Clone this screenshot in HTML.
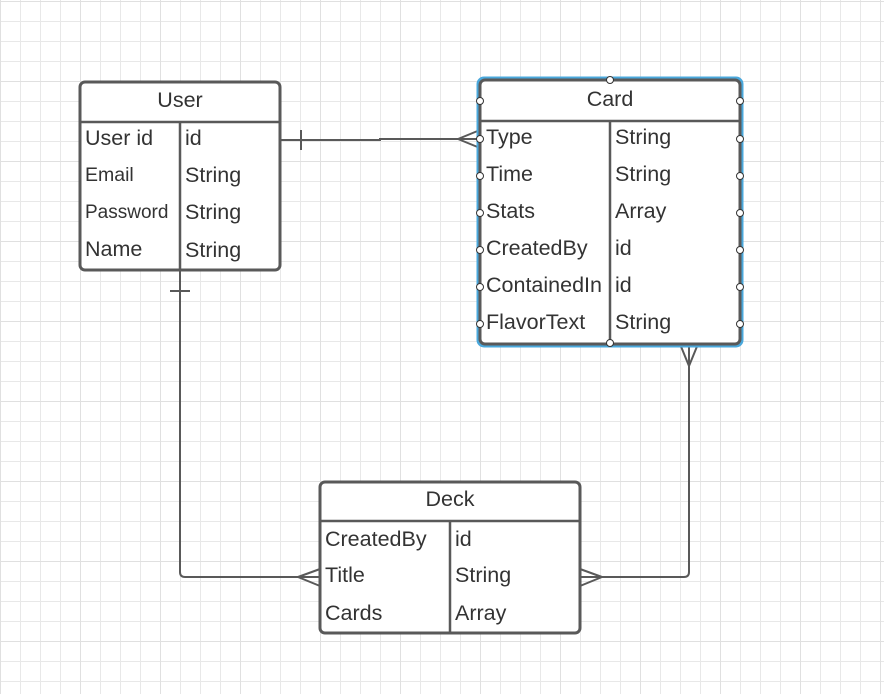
<!DOCTYPE html>
<html><head><meta charset="utf-8"><style>
html,body{margin:0;padding:0;background:#fff;}
svg{display:block;}
text{font-family:"Liberation Sans",sans-serif;fill:#333;}
</style></head><body>
<svg width="884" height="694" viewBox="0 0 884 694" xmlns="http://www.w3.org/2000/svg">
<defs>
<pattern id="g" width="20" height="20" patternUnits="userSpaceOnUse" x="0" y="1">
<path d="M0.5 0V20M0 0.5H20" stroke="#e8e8e8" stroke-width="1" fill="none"/>
</pattern>
<pattern id="G" width="80" height="80" patternUnits="userSpaceOnUse" x="0" y="1">
<path d="M0.5 0V80M0 0.5H80" stroke="#e0e0e0" stroke-width="1" fill="none"/>
</pattern>
</defs>
<rect width="884" height="694" fill="url(#g)"/>
<rect width="884" height="694" fill="url(#G)"/>

<g stroke="#595959" stroke-width="2" fill="none">
<path d="M280 140H380V139H480"/>
<path d="M301 130V150"/>
<path d="M458 139L480 130M458 139L480 148"/>
<path d="M180 270V572Q180 577 185 577H320"/>
<path d="M170 291H190"/>
<path d="M298 577L320 569M298 577L320 586"/>
<path d="M689 344V572Q689 577 684 577H580"/>
<path d="M689 366L680 344M689 366L698 344"/>
<path d="M602 577L580 569M602 577L580 586"/>
</g>

<g>
<rect x="80" y="82" width="200" height="188" rx="5" fill="#fff" stroke="#595959" stroke-width="3"/>
<path d="M80 122H280M180 122V270" stroke="#595959" stroke-width="2.5"/>
<text x="180" y="107" font-size="21.5" text-anchor="middle">User</text>
<text x="85" y="145" font-size="21.5">User id</text>
<text x="85" y="181" font-size="19.5">Email</text>
<text x="85" y="218" font-size="19">Password</text>
<text x="85" y="256" font-size="21.5">Name</text>
<text x="185" y="145" font-size="21.5">id</text>
<text x="185" y="182" font-size="21.5">String</text>
<text x="185" y="219" font-size="21.5">String</text>
<text x="185" y="257" font-size="21.5">String</text>
</g>

<g>
<rect x="478" y="78" width="264" height="268" rx="6" fill="none" stroke="#4aa8dc" stroke-width="3"/>
<rect x="480" y="80" width="260" height="264" rx="5" fill="#fff" stroke="#595959" stroke-width="3"/>
<path d="M480 121H740M610 121V344" stroke="#595959" stroke-width="2.5"/>
<text x="610" y="106" font-size="21.5" text-anchor="middle">Card</text>
<g font-size="21.5">
<text x="486" y="144">Type</text>
<text x="486" y="181">Time</text>
<text x="486" y="218">Stats</text>
<text x="486" y="255">CreatedBy</text>
<text x="486" y="292">ContainedIn</text>
<text x="486" y="329">FlavorText</text>
<text x="615" y="144">String</text>
<text x="615" y="181">String</text>
<text x="615" y="218">Array</text>
<text x="615" y="255">id</text>
<text x="615" y="292">id</text>
<text x="615" y="329">String</text>
</g>
<g fill="#fff" stroke="#333" stroke-width="1">
<circle cx="610" cy="80" r="3.5"/><circle cx="610" cy="343" r="3.5"/>
<circle cx="480" cy="101" r="3.5"/><circle cx="740" cy="101" r="3.5"/>
<circle cx="480" cy="139" r="3.5"/><circle cx="740" cy="139" r="3.5"/>
<circle cx="480" cy="176" r="3.5"/><circle cx="740" cy="176" r="3.5"/>
<circle cx="480" cy="213" r="3.5"/><circle cx="740" cy="213" r="3.5"/>
<circle cx="480" cy="250" r="3.5"/><circle cx="740" cy="250" r="3.5"/>
<circle cx="480" cy="287" r="3.5"/><circle cx="740" cy="287" r="3.5"/>
<circle cx="480" cy="324" r="3.5"/><circle cx="740" cy="324" r="3.5"/>
</g>
</g>

<g>
<rect x="320" y="482" width="260" height="151" rx="5" fill="#fff" stroke="#595959" stroke-width="3"/>
<path d="M320 521H580M450 521V633" stroke="#595959" stroke-width="2.5"/>
<text x="450" y="506" font-size="21.5" text-anchor="middle">Deck</text>
<g font-size="21.5">
<text x="325" y="546">CreatedBy</text>
<text x="325" y="582">Title</text>
<text x="325" y="620">Cards</text>
<text x="455" y="546">id</text>
<text x="455" y="582">String</text>
<text x="455" y="620">Array</text>
</g>
</g>
</svg>
</body></html>
